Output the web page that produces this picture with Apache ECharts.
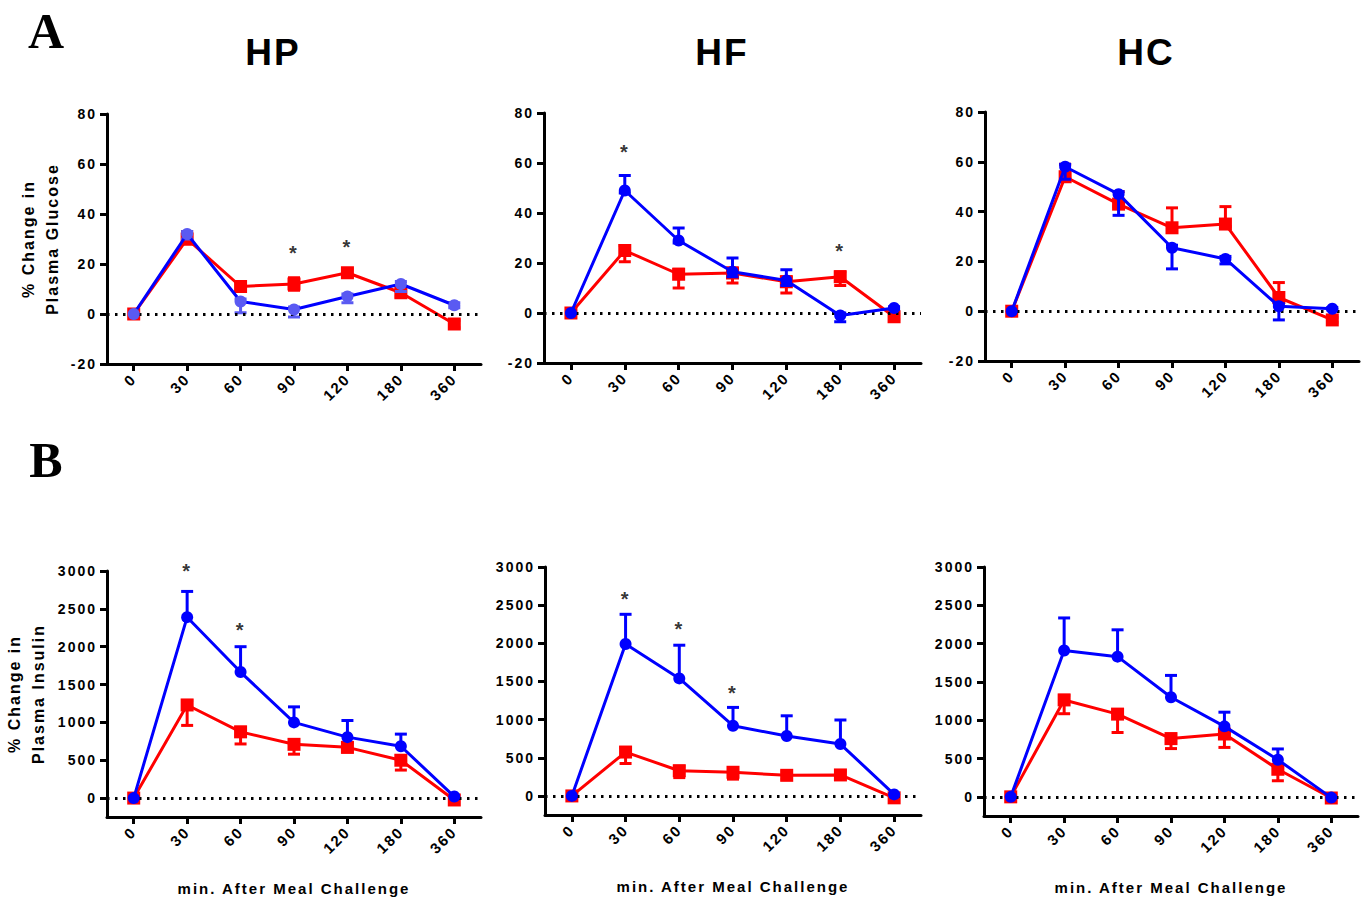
<!DOCTYPE html>
<html lang="en">
<head>
<meta charset="UTF-8">
<title>Plasma glucose and insulin after meal challenge</title>
<script src="https://cdn.jsdelivr.net/npm/echarts@6/dist/echarts.min.js"></script>
<style>
  html, body { margin: 0; padding: 0; background: #fff; }
  #main { width: 1367px; height: 899px; }
  /* GraphPad-style spaced lettering */
  #main text { letter-spacing: 2px; }
</style>
</head>
<body>
<div id="main"></div>
<script>
// ---- data ----
var times = ['0', '30', '60', '90', '120', '180', '360'];
var insulinTicks = [0, 500, 1000, 1500, 2000, 2500, 3000];

// A: % change in plasma glucose. errors are [below, above]
var hpGlucRed = [0, 30, 11, 12, 16.5, 8.5, -4];
var hpGlucRedErr = [[0, 0], [2, 3], [2, 2], [2.5, 2.5], [1.5, 1.5], [1.5, 1.5], [1.5, 1.5]];
var hpGlucBlue = [0, 32, 5, 1.8, 7, 12, 3.5];
var hpGlucBlueErr = [[0, 0], [2, 1], [4.5, 1], [3, 1], [2.5, 1], [3, 1], [1, 1]];
var hpGlucStars = [[3, 26.5], [4, 29]];

var hfGlucRed = [0, 25, 15.5, 16, 12.5, 14.5, -1.5];
var hfGlucRedErr = [[0, 0], [4.5, 2], [5.5, 2], [4, 2], [4.5, 2], [3.5, 2], [1, 1]];
var hfGlucBlue = [0, 49, 29, 16.5, 13, -1, 2];
var hfGlucBlueErr = [[0, 0], [1, 6], [1, 5], [2, 5.5], [2, 4.3], [2.5, 1], [0.5, 0.5]];
var hfGlucStars = [[1, 66.5], [5, 27]];

var hcGlucRed = [0, 54, 43, 33.5, 35, 5.5, -3.5];
var hcGlucRedErr = [[0, 0], [1, 5], [1, 5], [1, 8], [1, 7], [1, 6], [1, 1]];
var hcGlucBlue = [0, 58, 47, 25.5, 21, 2, 1];
var hcGlucBlueErr = [[0, 0], [5, 1], [8.5, 1], [8.5, 1], [2, 1], [5.5, 1], [0.5, 0.5]];
var hcGlucStars = [];

// B: % change in plasma insulin
var hpInsRed = [0, 1230, 875, 710, 670, 500, -25];
var hpInsRedErr = [[0, 0], [270, 60], [160, 60], [130, 60], [60, 60], [130, 60], [0, 0]];
var hpInsBlue = [0, 2390, 1665, 1000, 805, 685, 20];
var hpInsBlueErr = [[0, 0], [0, 340], [0, 335], [0, 205], [0, 220], [0, 160], [0, 0]];
var hpInsStars = [[1, 3060], [2, 2290]];

var hfInsRed = [0, 575, 330, 310, 270, 275, -25];
var hfInsRedErr = [[0, 0], [150, 60], [90, 60], [90, 60], [50, 50], [50, 50], [0, 0]];
var hfInsBlue = [0, 1990, 1540, 920, 785, 680, 20];
var hfInsBlueErr = [[0, 0], [0, 390], [0, 435], [0, 240], [0, 265], [0, 315], [0, 0]];
var hfInsStars = [[1, 2650], [2, 2250], [3, 1420]];

var hcInsRed = [0, 1265, 1080, 760, 820, 360, -15];
var hcInsRedErr = [[0, 0], [180, 60], [240, 60], [130, 60], [175, 60], [150, 60], [0, 0]];
var hcInsBlue = [0, 1910, 1830, 1300, 920, 485, -10];
var hcInsBlueErr = [[0, 0], [0, 425], [0, 350], [0, 285], [0, 185], [0, 140], [0, 0]];
var hcInsStars = [];

// ---- layout ----
var font = '"Liberation Sans", Arial, sans-serif';
var RED = '#ff0000', BLUE = '#0000ff';

var panels = [
  { grid: { left: 107, top: 114, width: 374, height: 250 }, red: hpGlucRed, redErr: hpGlucRedErr, blue: hpGlucBlue, blueErr: hpGlucBlueErr, stars: hpGlucStars, blueMark: '#5a5af2', kind: 'g', yName: '% Change in\nPlasma Glucose', nameGap: 43 },
  { grid: { left: 544, top: 113, width: 377, height: 250 }, red: hfGlucRed, redErr: hfGlucRedErr, blue: hfGlucBlue, blueErr: hfGlucBlueErr, stars: hfGlucStars, blueMark: BLUE, kind: 'g' },
  { grid: { left: 985, top: 112, width: 374, height: 249 }, red: hcGlucRed, redErr: hcGlucRedErr, blue: hcGlucBlue, blueErr: hcGlucBlueErr, stars: hcGlucStars, blueMark: BLUE, kind: 'g' },
  { grid: { left: 107, top: 571, width: 374, height: 246 }, red: hpInsRed, redErr: hpInsRedErr, blue: hpInsBlue, blueErr: hpInsBlueErr, stars: hpInsStars, blueMark: BLUE, kind: 'i', yName: '% Change in\nPlasma Insulin', nameGap: 57 },
  { grid: { left: 545, top: 567, width: 376, height: 248 }, red: hfInsRed, redErr: hfInsRedErr, blue: hfInsBlue, blueErr: hfInsBlueErr, stars: hfInsStars, blueMark: BLUE, kind: 'i' },
  { grid: { left: 984, top: 567, width: 374, height: 249 }, red: hcInsRed, redErr: hcInsRedErr, blue: hcInsBlue, blueErr: hcInsBlueErr, stars: hcInsStars, blueMark: BLUE, kind: 'i' }
];

function errorBars(color) {
  return function (params, api) {
    var i = api.value(0), m = api.value(1), lo = api.value(2), hi = api.value(3);
    var top = api.coord([i, m + hi]);
    var bot = api.coord([i, m - lo]);
    var st = { stroke: color, lineWidth: 3 };
    var w = 6;
    var kids = [{ type: 'line', shape: { x1: top[0], y1: top[1], x2: bot[0], y2: bot[1] }, style: st }];
    if (hi > 0) kids.push({ type: 'line', shape: { x1: top[0] - w, y1: top[1], x2: top[0] + w, y2: top[1] }, style: st });
    if (lo > 0) kids.push({ type: 'line', shape: { x1: bot[0] - w, y1: bot[1], x2: bot[0] + w, y2: bot[1] }, style: st });
    return { type: 'group', children: kids };
  };
}

function errData(vals, errs) {
  return vals.map(function (v, i) { return [i, v, errs[i][0], errs[i][1]]; });
}

var grids = [], xAxes = [], yAxes = [], series = [];
var axisLine = { show: true, onZero: false, lineStyle: { color: '#000', width: 3 } };
var axisTick = { show: true, length: 7, lineStyle: { color: '#000', width: 3 } };
var tickLabel = { color: '#000', fontFamily: font, fontWeight: 'bold', fontSize: 14 };

panels.forEach(function (p, k) {
  grids.push(p.grid);
  xAxes.push({
    type: 'category', gridIndex: k, data: times, boundaryGap: true,
    axisLine: axisLine,
    axisTick: Object.assign({ alignWithLabel: true }, axisTick),
    axisLabel: Object.assign({ rotate: 45, margin: 12, interval: 0 }, tickLabel, { fontSize: 15 }),
    name: p.kind === 'i' ? 'min. After Meal Challenge' : '',
    nameLocation: 'middle', nameGap: 64,
    nameTextStyle: { color: '#000', fontFamily: font, fontWeight: 'bold', fontSize: 15 }
  });
  var y = {
    type: 'value', gridIndex: k, splitLine: { show: false },
    axisLine: axisLine, axisTick: axisTick,
    axisLabel: Object.assign({ margin: 10, formatter: function (v) { return String(v); } }, tickLabel),
    name: p.yName || '', nameLocation: 'middle', nameRotate: 90, nameGap: p.nameGap || 0,
    nameTextStyle: { color: '#000', fontFamily: font, fontWeight: 'bold', fontSize: 16, lineHeight: 24 }
  };
  if (p.kind === 'g') {
    y.min = -20; y.max = 80; y.interval = 20;
  } else {
    y.min = -250; y.max = 3000;
    y.axisLabel.customValues = insulinTicks;
    y.axisTick = Object.assign({ customValues: insulinTicks }, axisTick);
  }
  yAxes.push(y);

  series.push({
    type: 'custom', xAxisIndex: k, yAxisIndex: k, z: 2, silent: true,
    renderItem: errorBars(RED), encode: { x: 0, y: 1 },
    data: errData(p.red, p.redErr)
  });
  series.push({
    type: 'line', xAxisIndex: k, yAxisIndex: k, z: 3, data: p.red,
    symbol: 'rect', symbolSize: 13, showAllSymbol: true,
    itemStyle: { color: RED }, lineStyle: { color: RED, width: 3 },
    markLine: {
      silent: true, symbol: 'none', label: { show: false },
      lineStyle: { color: '#000', type: [2.5, 5.5], width: 3 },
      data: [{ yAxis: 0 }]
    }
  });
  series.push({
    type: 'custom', xAxisIndex: k, yAxisIndex: k, z: 4, silent: true,
    renderItem: errorBars(p.blueMark), encode: { x: 0, y: 1 },
    data: errData(p.blue, p.blueErr)
  });
  series.push({
    type: 'line', xAxisIndex: k, yAxisIndex: k, z: 5, data: p.blue,
    symbol: 'circle', symbolSize: 12, showAllSymbol: true,
    itemStyle: { color: p.blueMark }, lineStyle: { color: BLUE, width: 3 }
  });
  series.push({
    type: 'scatter', xAxisIndex: k, yAxisIndex: k, z: 6, data: p.stars, clip: false,
    symbolSize: 2, itemStyle: { color: 'rgba(0,0,0,0)' },
    label: { show: true, position: 'inside', formatter: '*', color: '#000', fontFamily: font, fontWeight: 'bold', fontSize: 20, offset: [0, 5] }
  });
});

var chart = echarts.init(document.getElementById('main'), null, { renderer: 'svg' });
chart.setOption({
  animation: false,
  backgroundColor: '#fff',
  grid: grids,
  xAxis: xAxes,
  yAxis: yAxes,
  series: series,
  graphic: [
    { type: 'text', x: 47, y: 31, style: { text: 'A', font: 'bold 50px "Liberation Serif", serif', fill: '#000', textAlign: 'center', textVerticalAlign: 'middle' } },
    { type: 'text', x: 47, y: 460, style: { text: 'B', font: 'bold 50px "Liberation Serif", serif', fill: '#000', textAlign: 'center', textVerticalAlign: 'middle' } },
    { type: 'text', x: 273, y: 52, style: { text: 'HP', font: 'bold 37px ' + font, fill: '#000', textAlign: 'center', textVerticalAlign: 'middle' } },
    { type: 'text', x: 722, y: 52, style: { text: 'HF', font: 'bold 37px ' + font, fill: '#000', textAlign: 'center', textVerticalAlign: 'middle' } },
    { type: 'text', x: 1146, y: 52, style: { text: 'HC', font: 'bold 37px ' + font, fill: '#000', textAlign: 'center', textVerticalAlign: 'middle' } }
  ]
});
</script>
</body>
</html>
